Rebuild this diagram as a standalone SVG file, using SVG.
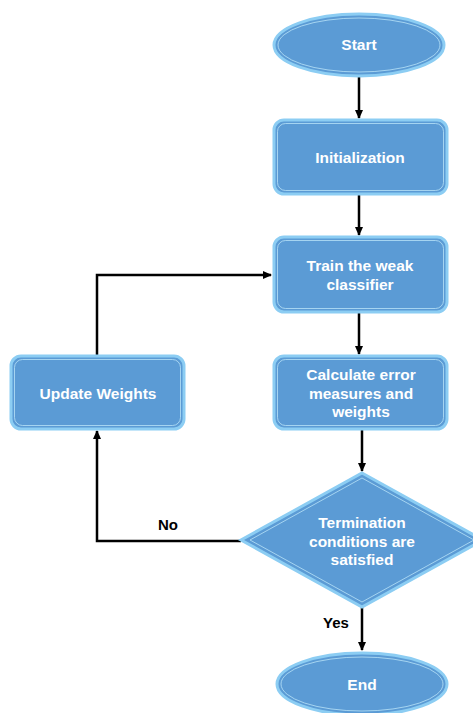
<svg xmlns="http://www.w3.org/2000/svg" width="473" height="713" viewBox="0 0 473 713">
<defs>
<style>
.n{fill:#5b9bd5;stroke:#8ccdf3;stroke-width:3}
.i{fill:none;stroke:#b8e2f8;stroke-width:1;opacity:0.8}
.t{font-family:"Liberation Sans",Arial,sans-serif;font-weight:bold;font-size:15.5px;fill:#ffffff;text-anchor:middle}
.l{font-family:"Liberation Sans",Arial,sans-serif;font-weight:bold;font-size:15px;fill:#000000;text-anchor:middle}
.c{fill:none;stroke:#000000;stroke-width:2.5}
</style>
<marker id="a" markerWidth="10" markerHeight="10" refX="8" refY="5" orient="auto" markerUnits="userSpaceOnUse">
<path d="M0,1 L9,5 L0,9 Z" fill="#000000"/>
</marker>
</defs>
<rect width="473" height="713" fill="#ffffff"/>
<g id="connectors">
<path class="c" d="M359,76 V118" marker-end="url(#a)"/>
<path class="c" d="M359,194 V235" marker-end="url(#a)"/>
<path class="c" d="M359,312 V354" marker-end="url(#a)"/>
<path class="c" d="M362,429 V471" marker-end="url(#a)"/>
<path class="c" d="M362,607 V650" marker-end="url(#a)"/>
<path class="c" d="M241,541 H97 V431" marker-end="url(#a)"/>
<path class="c" d="M97,356 V275 H271" marker-end="url(#a)"/>
<text class="l" x="336" y="628">Yes</text>
<text class="l" x="168" y="530">No</text>
</g>
<g id="start">
<ellipse class="n" cx="359" cy="45" rx="85" ry="31"/>
<ellipse class="i" cx="359" cy="45" rx="81" ry="27"/>
<text class="t" x="359" y="50">Start</text>
</g>
<g id="init">
<rect class="n" x="274" y="120" width="173" height="74" rx="10"/>
<rect class="i" x="277.5" y="123.5" width="166" height="67" rx="8"/>
<text class="t" x="360" y="163">Initialization</text>
</g>
<g id="train">
<rect class="n" x="274" y="237" width="173" height="75" rx="10"/>
<rect class="i" x="277.5" y="240.5" width="166" height="68" rx="8"/>
<text class="t" x="360" y="271">Train the weak</text>
<text class="t" x="360" y="290">classifier</text>
</g>
<g id="calc">
<rect class="n" x="274" y="356" width="173" height="73" rx="10"/>
<rect class="i" x="277.5" y="359.5" width="166" height="66" rx="8"/>
<text class="t" x="361" y="380">Calculate error</text>
<text class="t" x="361" y="398.5">measures and</text>
<text class="t" x="361" y="417">weights</text>
</g>
<g id="update">
<rect class="n" x="11" y="356" width="173" height="73" rx="10"/>
<rect class="i" x="14.5" y="359.5" width="166" height="66" rx="8"/>
<text class="t" x="98" y="399">Update Weights</text>
</g>
<g id="decision">
<polygon class="n" points="362,473 483,540 362,607 241,540"/>
<polygon class="i" points="362,478 474,540 362,602 250,540"/>
<text class="t" x="362" y="528">Termination</text>
<text class="t" x="362" y="547">conditions are</text>
<text class="t" x="362" y="565">satisfied</text>
</g>
<g id="end">
<ellipse class="n" cx="362" cy="684" rx="85" ry="31"/>
<ellipse class="i" cx="362" cy="684" rx="81" ry="27"/>
<text class="t" x="362" y="690">End</text>
</g>
</svg>
